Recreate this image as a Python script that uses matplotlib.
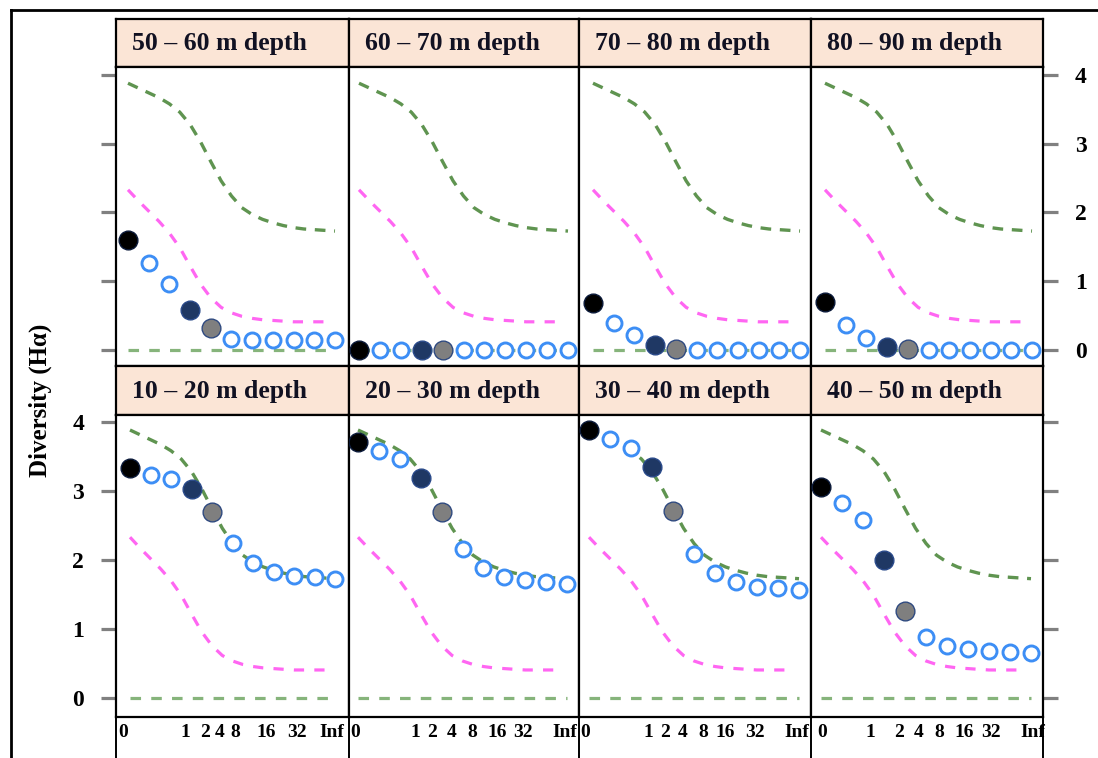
import matplotlib
matplotlib.use('Agg')
import matplotlib.pyplot as plt
from matplotlib.lines import Line2D

# ---------------- data ----------------
sample_idx = [0, 1, 2, 3, 4, 5, 6, 7, 8, 9, 10]
tick_labels = ['0', '1', '2', '4', '8', '16', '32', 'Inf']

titles_top = ['50 – 60 m depth', '60 – 70 m depth', '70 – 80 m depth', '80 – 90 m depth']
titles_bottom = ['10 – 20 m depth', '20 – 30 m depth', '30 – 40 m depth', '40 – 50 m depth']

div_50_60 = [1.60, 1.26, 0.96, 0.58, 0.32, 0.16, 0.15, 0.15, 0.15, 0.15, 0.15]
div_60_70 = [0.00, 0.00, 0.00, 0.00, 0.00, 0.00, 0.00, 0.00, 0.00, 0.00, 0.00]
div_70_80 = [0.68, 0.39, 0.22, 0.07, 0.02, 0.00, 0.00, 0.00, 0.00, 0.00, 0.00]
div_80_90 = [0.70, 0.36, 0.18, 0.05, 0.02, 0.00, 0.00, 0.00, 0.00, 0.00, 0.00]
div_10_20 = [3.33, 3.23, 3.17, 3.02, 2.69, 2.25, 1.96, 1.83, 1.77, 1.75, 1.72]
div_20_30 = [3.71, 3.58, 3.46, 3.18, 2.69, 2.16, 1.88, 1.76, 1.71, 1.68, 1.65]
div_30_40 = [3.88, 3.75, 3.62, 3.34, 2.71, 2.09, 1.81, 1.68, 1.61, 1.59, 1.57]
div_40_50 = [3.06, 2.83, 2.58, 2.00, 1.27, 0.88, 0.76, 0.71, 0.69, 0.67, 0.66]

# reference curves (same in every panel)
upper_x = [0, 0.5, 1, 1.5, 2, 2.5, 3, 3.5, 4, 4.5, 5, 5.5, 6, 6.5, 7, 7.5, 8, 8.5, 9, 9.5, 10]
upper_y = [3.88, 3.81, 3.74, 3.67, 3.58, 3.46, 3.28, 3.03, 2.74, 2.46, 2.24, 2.07, 1.97,
           1.90, 1.85, 1.81, 1.78, 1.76, 1.75, 1.74, 1.73]
mid_x = [0, 0.5, 1, 1.5, 2, 2.5, 3, 3.5, 4, 4.5, 5, 5.5, 6, 6.5, 7, 7.5, 8, 8.5, 9, 9.5]
mid_y = [2.33, 2.17, 2.02, 1.87, 1.70, 1.49, 1.22, 0.96, 0.76, 0.62, 0.54, 0.49, 0.46,
         0.44, 0.43, 0.42, 0.41, 0.41, 0.41, 0.41]
low_x = [0, 10]
low_y = [0.0, 0.0]

series_top = [div_50_60, div_60_70, div_70_80, div_80_90]
series_bottom = [div_10_20, div_20_30, div_30_40, div_40_50]

# ---------------- layout (pixels) ----------------
W, H = 1098, 758
cols = [(116, 349), (349, 579), (579, 811), (811, 1043)]
top_head, top_plot = (19, 67), (67, 366)
bot_head, bot_plot = (366, 415), (415, 717)
pts_top = [(128, 335), (359, 568), (593, 800), (825, 1032)]
pts_bot = [(130, 335), (358, 567), (589, 799), (821, 1031)]
tick_px = [
    [123, 185, 205, 220, 235, 266, 297, 332],
    [355, 415, 432, 452, 472, 497, 523, 565],
    [585, 648, 665, 683, 703, 725, 755, 797],
    [822, 870, 899, 919, 939, 964, 991, 1033],
]
ylim_top = (-0.2327, 4.116)
ylim_bot = (-0.270, 4.097)

fig = plt.figure(figsize=(W / 100, H / 100), dpi=100)


def rect(l, t, r, b):
    return [l / W, 1 - b / H, (r - l) / W, (b - t) / H]


SERIF = ['Liberation Serif', 'DejaVu Serif']
green = '#5f9450'
green_low = '#86b47b'
pink = '#ff66f2'
blue = '#3d8ef5'
navy = '#1f3864'
grey = '#7f7f7f'
head_fc = '#fbe5d6'


def draw_panel(ax, vals, xf, xl, L, R, ylim):
    u = (xl - xf) / 10.0
    ax.set_xlim((L - xf) / u, (R - xf) / u)
    ax.set_ylim(*ylim)
    ax.plot(upper_x, upper_y, color=green, lw=2.4, ls=(0, (3.2, 2.6)), zorder=2)
    ax.plot(mid_x, mid_y, color=pink, lw=2.3, ls=(0, (3.2, 3.2)), zorder=2)
    ax.plot(low_x, low_y, color=green_low, lw=2.3, ls=(0, (3.3, 3.2)), zorder=2)
    open_idx = [i for i in range(len(vals)) if i not in (0, 3, 4)]
    ax.plot([sample_idx[i] for i in open_idx], [vals[i] for i in open_idx], 'o',
            ms=10.8, mfc='white', mec=blue, mew=2.1, zorder=3)
    ax.plot([sample_idx[0]], [vals[0]], 'o', ms=13.5, mfc='black', mec='#0b1a3a', mew=1, zorder=4)
    ax.plot([sample_idx[3]], [vals[3]], 'o', ms=13.5, mfc=navy, mec='#2a4a8a', mew=1, zorder=4)
    ax.plot([sample_idx[4]], [vals[4]], 'o', ms=13.5, mfc=grey, mec='#2f4a80', mew=1, zorder=4)
    for s in ax.spines.values():
        s.set_linewidth(1.6)
        s.set_color('black')
    ax.set_yticks([0, 1, 2, 3, 4])
    ax.tick_params(axis='y', length=0, labelleft=False, labelright=False)
    ax.set_xticks([])
    return u


def header(rect_px, text):
    hx = fig.add_axes(rect(*rect_px))
    hx.set_facecolor(head_fc)
    hx.set_xticks([]); hx.set_yticks([])
    for s in hx.spines.values():
        s.set_linewidth(1.6)
    hx.text(16 / (rect_px[2] - rect_px[0]), 0.48, text, transform=hx.transAxes,
            ha='left', va='center', fontsize=18.5, fontweight='bold', family=SERIF,
            color='#111122')


ytick_kw = dict(length=11, width=2.3, color='#808080', labelsize=17, labelcolor='black')

for c in range(4):
    L, R = cols[c]
    header((L, top_head[0], R, top_head[1]), titles_top[c])
    ax = fig.add_axes(rect(L, top_plot[0], R, top_plot[1]))
    draw_panel(ax, series_top[c], pts_top[c][0], pts_top[c][1], L, R, ylim_top)
    if c == 0:
        ax.tick_params(axis='y', left=True, labelleft=False, **ytick_kw)
    if c == 3:
        ax.yaxis.set_ticks_position('right')
        ax.tick_params(axis='y', right=True, labelright=True, pad=12, **ytick_kw)
        for t in ax.get_yticklabels():
            t.set_fontweight('bold'); t.set_family(SERIF)
    header((L, bot_head[0], R, bot_head[1]), titles_bottom[c])
    ax = fig.add_axes(rect(L, bot_plot[0], R, bot_plot[1]))
    u = draw_panel(ax, series_bottom[c], pts_bot[c][0], pts_bot[c][1], L, R, ylim_bot)
    xf = pts_bot[c][0]
    ax.set_xticks([(p - xf) / u for p in tick_px[c]])
    ax.set_xticklabels(tick_labels, fontsize=14, fontweight='bold', family=SERIF)
    ax.tick_params(axis='x', length=0, pad=5)
    if c == 0:
        ax.tick_params(axis='y', left=True, labelleft=True, pad=12, **ytick_kw)
        for t in ax.get_yticklabels():
            t.set_fontweight('bold'); t.set_family(SERIF)
    if c == 3:
        ax.yaxis.set_ticks_position('right')
        ax.tick_params(axis='y', right=True, labelright=False, **ytick_kw)

fig.text(40 / W, 1 - 400 / H, 'Diversity (Hα)', rotation=90, ha='center', va='center',
         fontsize=18, fontweight='bold', family=SERIF)

for x in [116, 349, 579, 811, 1043]:
    fig.add_artist(Line2D([x / W, x / W], [1 - 717 / H, 0], color='black', lw=1.4))

fig.add_artist(Line2D([11 / W, 11 / W], [1 - 10 / H, 0], color='black', lw=2.0))
fig.add_artist(Line2D([11 / W, 1.0], [1 - 10 / H, 1 - 10 / H], color='black', lw=2.0))

fig.savefig('out.png', dpi=100, facecolor='white')
